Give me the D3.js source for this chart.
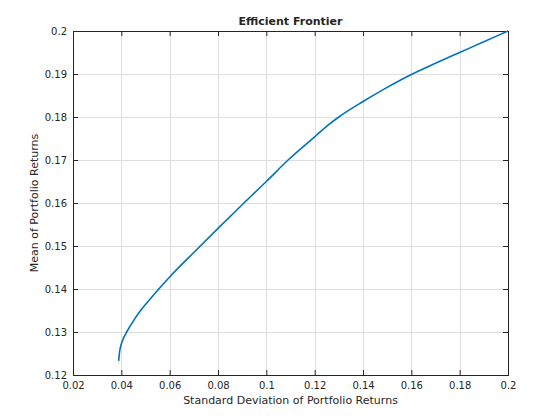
<!DOCTYPE html>
<html>
<head>
<meta charset="utf-8">
<script src="https://cdn.jsdelivr.net/npm/d3@7"></script>
<style>
  body { margin: 0; background: #fff; }
  text { font-family: "DejaVu Sans", sans-serif; fill: #262626; }
</style>
</head>
<body>
<div id="chart"></div>
<script>
// values
var stdDev = [0.0389, 0.0393, 0.0400, 0.0410, 0.0422, 0.0450, 0.0481, 0.0515, 0.0555, 0.0600,
              0.0700, 0.0800, 0.0900, 0.1000, 0.1090, 0.1200, 0.1262, 0.1300, 0.1400, 0.1500,
              0.1600, 0.1700, 0.1800, 0.1900, 0.2000];
var meanRet = [0.1233, 0.1255, 0.1272, 0.1287, 0.1300, 0.1326, 0.1351, 0.1374, 0.1400, 0.1428,
               0.1485, 0.1541, 0.1596, 0.1650, 0.1700, 0.1754, 0.1784, 0.1800, 0.1836, 0.1869,
               0.1899, 0.1925, 0.1950, 0.1975, 0.2000];
var xTicks = [0.02, 0.04, 0.06, 0.08, 0.1, 0.12, 0.14, 0.16, 0.18, 0.2];
var yTicks = [0.12, 0.13, 0.14, 0.15, 0.16, 0.17, 0.18, 0.19, 0.2];

var svgWidth = 560, svgHeight = 420;
var margin = { top: 31, right: 52, bottom: 45, left: 73 };
var width = svgWidth - margin.left - margin.right;
var height = svgHeight - margin.top - margin.bottom;

var svg = d3.select("#chart").append("svg")
    .attr("width", svgWidth)
    .attr("height", svgHeight)
  .append("g")
    .attr("transform", "translate(" + margin.left + "," + margin.top + ")");

var x = d3.scaleLinear().domain([0.02, 0.2]).range([0, width]);
var y = d3.scaleLinear().domain([0.12, 0.2]).range([height, 0]);

// grid
svg.append("g").selectAll("line").data(xTicks).enter().append("line")
    .attr("x1", d => Math.round(x(d)) + 0.5).attr("x2", d => Math.round(x(d)) + 0.5)
    .attr("y1", 0).attr("y2", height)
    .attr("stroke", "#dfdfdf").attr("stroke-width", 1);
svg.append("g").selectAll("line").data(yTicks).enter().append("line")
    .attr("y1", d => Math.round(y(d)) + 0.5).attr("y2", d => Math.round(y(d)) + 0.5)
    .attr("x1", 0).attr("x2", width)
    .attr("stroke", "#dfdfdf").attr("stroke-width", 1);

// axes with inward ticks
function styleAxis(g) {
    g.select(".domain").remove();
    g.selectAll(".tick line").attr("stroke", "#262626");
    g.selectAll(".tick text").style("font-size", "10px").attr("fill", "#262626");
}
var fmt = d3.format("~g");
svg.append("g").attr("transform", "translate(0," + height + ")")
    .call(d3.axisBottom(x).tickValues(xTicks).tickFormat(fmt).tickSizeInner(-5).tickPadding(7))
    .call(styleAxis);
svg.append("g")
    .call(d3.axisTop(x).tickValues(xTicks).tickFormat("").tickSizeInner(-5))
    .call(styleAxis);
svg.append("g")
    .call(d3.axisLeft(y).tickValues(yTicks).tickFormat(fmt).tickSizeInner(-5).tickPadding(6))
    .call(styleAxis);
svg.append("g").attr("transform", "translate(" + width + ",0)")
    .call(d3.axisRight(y).tickValues(yTicks).tickFormat("").tickSizeInner(-5))
    .call(styleAxis);

svg.append("rect")
    .attr("x", 0.5).attr("y", 0.5).attr("width", width).attr("height", height)
    .attr("fill", "none").attr("stroke", "#262626").attr("stroke-width", 1);

// frontier
var line = d3.line()
    .x((d, i) => x(stdDev[i]))
    .y(d => y(d))
    .curve(d3.curveMonotoneX);
svg.append("path")
    .datum(meanRet)
    .attr("d", line)
    .attr("fill", "none")
    .attr("stroke", "#0072bd")
    .attr("stroke-width", 1.6);

// labels
svg.append("text")
    .attr("x", width / 2).attr("y", -6)
    .attr("text-anchor", "middle")
    .style("font-size", "11px").style("font-weight", "bold")
    .text("Efficient Frontier");
svg.append("text")
    .attr("x", width / 2).attr("y", height + 29)
    .attr("text-anchor", "middle")
    .style("font-size", "11px")
    .text("Standard Deviation of Portfolio Returns");
svg.append("text")
    .attr("transform", "translate(-35," + (height / 2) + ") rotate(-90)")
    .attr("text-anchor", "middle")
    .style("font-size", "11px")
    .text("Mean of Portfolio Returns");
</script>
</body>
</html>
